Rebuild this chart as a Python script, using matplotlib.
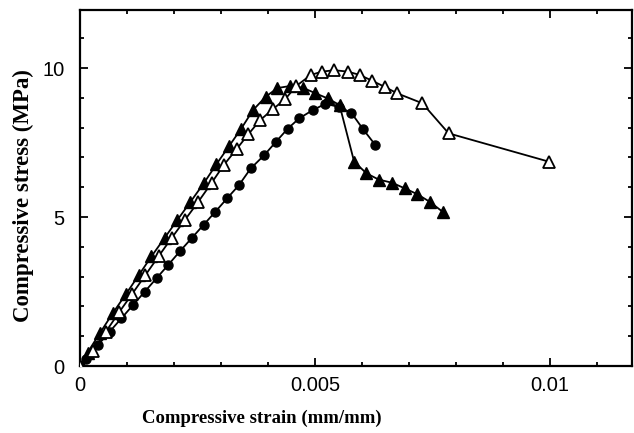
import matplotlib
matplotlib.use("Agg")
import matplotlib.pyplot as plt
from matplotlib.ticker import MultipleLocator, FixedLocator, FixedFormatter

# Open triangles series
open_tri_x = [0, 0.00027, 0.00055, 0.00083, 0.00111, 0.00139, 0.00167, 0.00195, 0.00223,
              0.00251, 0.00280, 0.00306, 0.00333, 0.00358, 0.00383, 0.00410, 0.00436,
              0.00460, 0.00491, 0.00514, 0.00541, 0.00570, 0.00595, 0.00622, 0.00648,
              0.00675, 0.00728, 0.00784, 0.00997]
open_tri_y = [0, 0.5, 1.15, 1.8, 2.42, 3.05, 3.68, 4.3, 4.9,
              5.5, 6.15, 6.75, 7.28, 7.78, 8.25, 8.62, 8.95,
              9.4, 9.77, 9.88, 9.93, 9.88, 9.77, 9.57, 9.37,
              9.15, 8.82, 7.81, 6.86]

# Filled triangles series
fill_tri_x = [0, 0.00016, 0.00043, 0.00070, 0.00098, 0.00125, 0.00152, 0.00180, 0.00207,
              0.00235, 0.00264, 0.00290, 0.00317, 0.00343, 0.00368, 0.00395, 0.00420,
              0.00447, 0.00474, 0.00500, 0.00527, 0.00552, 0.00583, 0.00609, 0.00635,
              0.00664, 0.00691, 0.00717, 0.00744, 0.00771]
fill_tri_y = [0, 0.45, 1.12, 1.78, 2.42, 3.05, 3.68, 4.3, 4.9,
              5.51, 6.15, 6.77, 7.38, 7.97, 8.59, 9.04, 9.33,
              9.4, 9.34, 9.16, 8.98, 8.76, 6.86, 6.47, 6.26,
              6.15, 5.96, 5.77, 5.51, 5.18]

# Filled circles series
circ_x = [0, 0.00013, 0.00038, 0.00063, 0.00088, 0.00113, 0.00138, 0.00163, 0.00188,
          0.00213, 0.00238, 0.00263, 0.00288, 0.00313, 0.00338, 0.00363, 0.00392,
          0.00417, 0.00442, 0.00466, 0.00495, 0.00522, 0.00550, 0.00577, 0.00602, 0.00628]
circ_y = [0, 0.25, 0.7, 1.15, 1.6, 2.05, 2.5, 2.95, 3.4,
          3.86, 4.3, 4.74, 5.18, 5.63, 6.07, 6.63, 7.08,
          7.53, 7.97, 8.31, 8.59, 8.8, 8.7, 8.5, 7.95, 7.42]

x_ticks = [0, 0.005, 0.01]
x_tick_labels = ["0", "0.005", "0.01"]
y_ticks = [0, 5, 10]
y_tick_labels = ["0", "5", "10"]

fig = plt.figure(figsize=(6.34, 4.33), dpi=100)
ax = fig.add_axes([80/634, 67/433, 552/634, 356/433])

lw = 1.3
ax.plot(circ_x, circ_y, color="black", lw=lw, marker="o", ms=6.5,
        mfc="black", mec="black", zorder=3)
ax.plot(fill_tri_x, fill_tri_y, color="black", lw=lw, marker="^", ms=8,
        mfc="black", mec="black", zorder=4)
ax.plot(open_tri_x, open_tri_y, color="black", lw=lw, marker="^", ms=8,
        mfc="white", mec="black", mew=1.3, zorder=5)

ax.set_xlim(0, 0.01174)
ax.set_ylim(0, 11.95)

ax.xaxis.set_major_locator(FixedLocator(x_ticks))
ax.xaxis.set_major_formatter(FixedFormatter(x_tick_labels))
ax.yaxis.set_major_locator(FixedLocator(y_ticks))
ax.yaxis.set_major_formatter(FixedFormatter(y_tick_labels))
ax.xaxis.set_minor_locator(MultipleLocator(0.001))
ax.yaxis.set_minor_locator(MultipleLocator(1))

ax.tick_params(which="both", direction="in", top=True, right=True, width=1.3)
ax.tick_params(which="major", length=6)
ax.tick_params(which="minor", length=3)

tick_font = ["Liberation Sans Narrow", "Liberation Sans", "DejaVu Sans"]
for lab in ax.get_xticklabels() + ax.get_yticklabels():
    lab.set_family(tick_font)
    lab.set_fontsize(14.5)
ax.tick_params(axis="x", pad=7)
ax.tick_params(axis="y", pad=11)

for s in ax.spines.values():
    s.set_linewidth(1.6)

label_font = ["Liberation Serif", "DejaVu Serif"]
ax.set_xlabel("Compressive strain (mm/mm)", family=label_font, fontweight="bold",
              fontsize=13.5)
ax.xaxis.set_label_coords(0.33, -0.122)
ax.set_ylabel("Compressive stress (MPa)", family=label_font, fontweight="bold",
              fontsize=16.5)
ax.yaxis.set_label_coords(-0.083, 0.48)

fig.savefig("out.png", dpi=100)
